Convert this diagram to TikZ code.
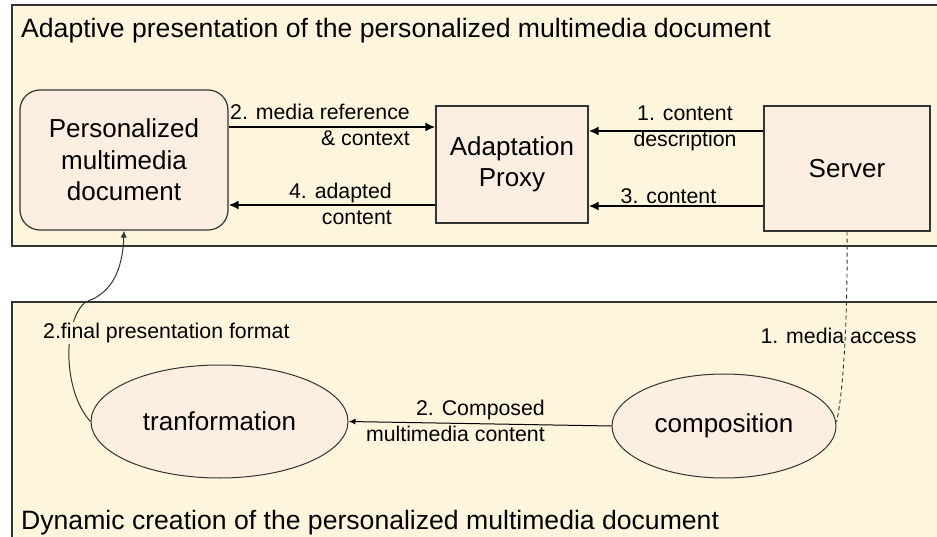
\documentclass[tikz,border=0pt]{standalone}
\usepackage{fontspec}
\setmainfont{Liberation Sans}
\usetikzlibrary{arrows.meta,shapes.geometric}
\definecolor{panelfill}{HTML}{FEF6DC}
\definecolor{nodefill}{HTML}{FCEEE0}
\definecolor{edge}{HTML}{333333}
\begin{document}
\begin{tikzpicture}[x=1pt,y=-1pt,
  panel/.style={draw=edge,line width=1.4pt,fill=panelfill},
  boxnode/.style={draw=edge,line width=1.2pt,fill=nodefill,align=center,font=\fontsize{26}{31.5}\selectfont,inner sep=0pt},
  ellnode/.style={draw=edge,line width=1pt,fill=nodefill,ellipse,font=\fontsize{26}{31}\selectfont,inner sep=0pt},
  thick arr/.style={line width=2pt,-{Latex[length=10pt,width=9pt]}},
  thin arr/.style={line width=1pt,-{Latex[length=7pt,width=6pt]}},
  lbl/.style={font=\fontsize{21.3}{26}\selectfont,inner sep=0pt},
  title/.style={font=\fontsize{26.6}{31}\selectfont,inner sep=0pt,anchor=west}]
\useasboundingbox (0,0) rectangle (937,537);
\begin{scope}
\clip (0,0) rectangle (937,537);
\draw[panel] (12,5) rectangle (950,246);
\draw[panel] (12,302) rectangle (950,550);
\end{scope}
\node[title] (t1) at (21,31) {Adaptive presentation of the personalized multimedia document};
\node[title] (t2) at (21,523) {Dynamic creation of the personalized multimedia document};

\node[boxnode,rounded corners=20pt,minimum width=208pt,minimum height=140pt] (pmd) at (124,160) {Personalized\\multimedia\\document};
\node[boxnode,minimum width=152pt,minimum height=117pt] (proxy) at (512,164.5) {Adaptation\\Proxy};
\node[boxnode,minimum width=166pt,minimum height=125pt] (server) at (847,168.5) {Server};

\node[ellnode,minimum width=257pt,minimum height=113pt] (tr) at (219.5,421.5) {tranformation};
\node[ellnode,minimum width=224pt,minimum height=104pt] (comp) at (724,426) {composition};

% top arrows
\draw[thick arr] ([yshift=33pt]pmd.east) -- ([yshift=33pt]pmd.east -| proxy.west);
\draw[thick arr] ([yshift=-40.5pt]proxy.west) -- ([yshift=-40.5pt]proxy.west -| pmd.east);
\draw[thick arr] ([yshift=37.5pt]server.west) -- ([yshift=37.5pt]server.west -| proxy.east);
\draw[thick arr] ([yshift=-37.5pt]server.west) -- ([yshift=-37.5pt]server.west -| proxy.east);

\node[lbl,align=right,anchor=east] (l2) at (410,124.5) {2. media reference\\\& context};
\node[lbl,align=right,anchor=east] (l4) at (392,203.5) {4. adapted\\content};
\node[lbl,align=center] (l1) at (685,128) {1. content\\description};
\node[lbl] (l3) at (668.5,196) {3. content};

% bottom
\draw[thin arr] (comp.west) -- (tr.east);
\node[lbl,align=right,anchor=east] (lc) at (545,421) {2. Composed\\multimedia content};

\draw[edge,line width=0.9pt,dash pattern=on 4pt off 3pt] (server.south) .. controls (848,330) and (842,400) .. ([yshift=4pt]comp.east);
\node[lbl] (lm) at (838.5,336) {1. media access};

\draw[edge,line width=1pt,-{Latex[length=7pt,width=6pt]}] (tr.west) .. controls (66,395) and (62,335) .. (80,308) .. controls (86,299) and (92,301) .. (98,296) .. controls (116,285) and (123,262) .. (pmd.south);
\node[lbl,fill=panelfill,anchor=west,inner sep=1pt] (lf) at (42,333) {2.final presentation format};
\end{tikzpicture}
\end{document}
